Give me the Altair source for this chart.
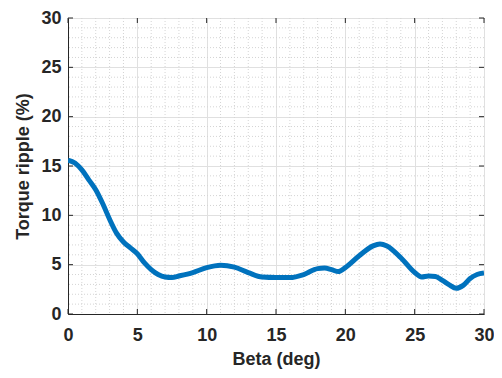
import altair as alt
import pandas as pd

# Data
beta = [0, 0.5, 1, 1.5, 2, 2.5, 3, 3.5, 4, 4.5, 5, 5.5, 6, 6.5, 7, 7.5, 8, 9, 10, 11,
        12, 13, 14, 15, 16, 17, 18, 18.5, 19, 19.5, 20, 21, 22, 22.5, 23, 24, 25,
        25.5, 26, 26.5, 27, 27.5, 28, 28.5, 29, 29.5, 30]
ripple = [15.6, 15.3, 14.6, 13.6, 12.6, 11.2, 9.6, 8.2, 7.3, 6.7, 6.1, 5.2, 4.5, 4.0,
          3.75, 3.7, 3.85, 4.2, 4.7, 4.95, 4.75, 4.2, 3.75, 3.7, 3.7, 4.0, 4.6, 4.65,
          4.5, 4.3, 4.7, 5.9, 6.9, 7.1, 6.9, 5.7, 4.2, 3.75, 3.85, 3.8, 3.4, 2.95,
          2.6, 2.9, 3.6, 4.0, 4.15]
major_ticks = [0, 5, 10, 15, 20, 25, 30]
minor_ticks = [v for v in range(0, 31) if v % 5 != 0]

W, H = 416, 296
AX = "#262626"
FONT = "Liberation Sans"

df = pd.DataFrame({"beta": beta, "ripple": ripple})
major_df = pd.DataFrame({"v": major_ticks})
minor_df = pd.DataFrame({"v": minor_ticks})

xscale = alt.Scale(domain=[0, 30], nice=False, zero=False)
yscale = alt.Scale(domain=[0, 30], nice=False, zero=False)

axis_style = dict(
    grid=True, ticks=False, format="d",
    domainColor=AX, domainWidth=1,
    gridColor="#e0e0e0", gridWidth=1,
    labelFont=FONT, labelFontSize=18, labelFontWeight="bold", labelColor=AX,
    titleFont=FONT, titleFontSize=18, titleFontWeight="bold", titleColor=AX,
    labelFlush=False, labelOverlap=False,
)
xaxis = alt.Axis(values=major_ticks, title="Beta (deg)", labelPadding=12, titlePadding=6,
                 **axis_style)
yaxis = alt.Axis(values=major_ticks, title="Torque ripple (%)", labelPadding=7, titlePadding=8,
                 **axis_style)

X = lambda f: alt.X(f, scale=xscale, axis=xaxis)
Y = lambda f: alt.Y(f, scale=yscale, axis=yaxis)

minor_x = alt.Chart(minor_df).mark_rule(color="#d4d4d4", strokeWidth=1, strokeDash=[1, 2]).encode(
    x=X("v:Q"))
minor_y = alt.Chart(minor_df).mark_rule(color="#d4d4d4", strokeWidth=1, strokeDash=[1, 2]).encode(
    y=Y("v:Q"))

line = alt.Chart(df).mark_line(color="#0072BD", strokeWidth=5, interpolate="monotone",
                               clip=True, strokeCap="butt").encode(
    x=X("beta:Q"), y=Y("ripple:Q"))

tick_len = 5
tick_bottom = alt.Chart(major_df).mark_rule(color=AX, strokeWidth=1).encode(
    x=X("v:Q"), y=alt.value(H), y2=alt.value(H - tick_len))
tick_top = alt.Chart(major_df).mark_rule(color=AX, strokeWidth=1).encode(
    x=X("v:Q"), y=alt.value(0), y2=alt.value(tick_len))
tick_left = alt.Chart(major_df).mark_rule(color=AX, strokeWidth=1).encode(
    y=Y("v:Q"), x=alt.value(0), x2=alt.value(tick_len))
tick_right = alt.Chart(major_df).mark_rule(color=AX, strokeWidth=1).encode(
    y=Y("v:Q"), x=alt.value(W), x2=alt.value(W - tick_len))

chart = alt.layer(minor_x, minor_y, line, tick_bottom, tick_top, tick_left, tick_right).properties(
    width=W, height=H,
    padding={"left": 60, "top": 10, "right": 10, "bottom": 56},
    autosize=alt.AutoSizeParams(type="none"),
    background="white",
).configure_view(
    stroke=AX, strokeWidth=1
)

chart.save("out.html", embed_options={"renderer": "svg", "actions": False})
